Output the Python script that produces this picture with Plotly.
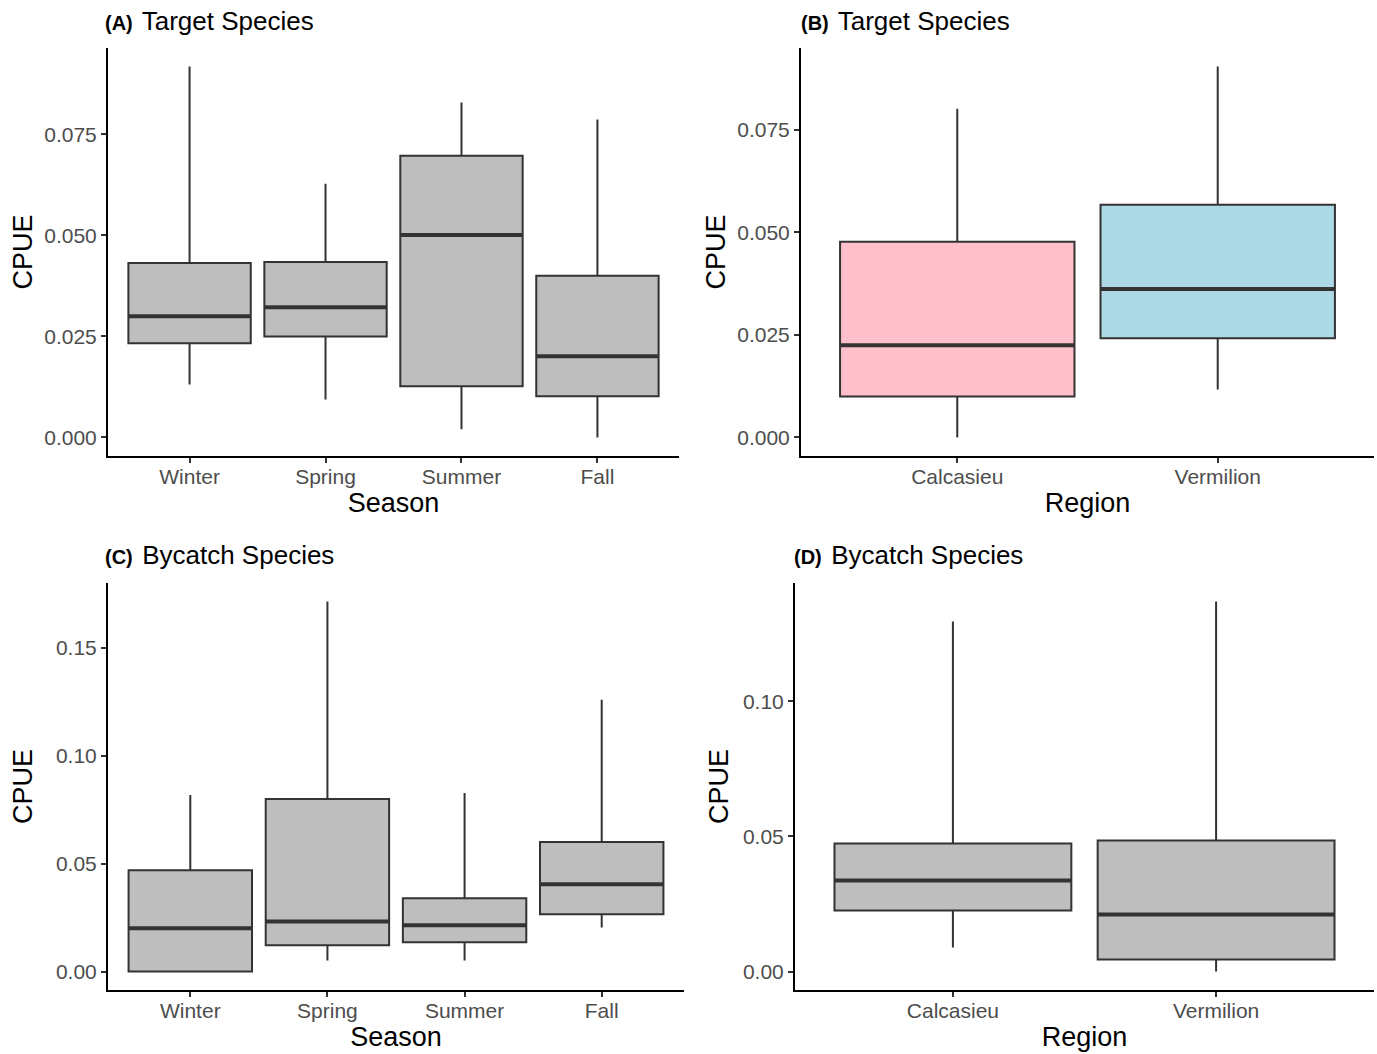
import plotly.graph_objects as go

W, H = 1377, 1054

seasons = ["Winter", "Spring", "Summer", "Fall"]
regions = ["Calcasieu", "Vermilion"]

# Panel A: Target species by season
a_low = [0.0131, 0.0094, 0.0020, 0.0000]
a_q1 = [0.0233, 0.0250, 0.0127, 0.0102]
a_med = [0.0300, 0.0322, 0.0501, 0.0201]
a_q3 = [0.0432, 0.0434, 0.0697, 0.0400]
a_high = [0.0918, 0.0628, 0.0829, 0.0787]

# Panel B: Target species by region
b_low = [0.0000, 0.0117]
b_q1 = [0.0100, 0.0242]
b_med = [0.0225, 0.0362]
b_q3 = [0.0477, 0.0567]
b_high = [0.0801, 0.0904]

# Panel C: Bycatch species by season
c_low = [0.0000, 0.0051, 0.0051, 0.0204]
c_q1 = [0.0000, 0.0121, 0.0135, 0.0265]
c_med = [0.0200, 0.0232, 0.0214, 0.0404]
c_q3 = [0.0469, 0.0799, 0.0339, 0.0599]
c_high = [0.0817, 0.1713, 0.0826, 0.1258]

# Panel D: Bycatch species by region
d_low = [0.0089, 0.0000]
d_q1 = [0.0226, 0.0044]
d_med = [0.0337, 0.0211]
d_q3 = [0.0474, 0.0485]
d_high = [0.1296, 0.1370]

GREY = "#BEBEBE"
region_fill_target = ["#FFC0CB", "#ADD8E6"]

panels = [
    dict(cats=seasons, low=a_low, q1=a_q1, med=a_med, q3=a_q3, high=a_high,
         fills=[GREY] * 4, tag="(A)", title="Target Species", xtitle="Season",
         ticks=[0, 0.025, 0.05, 0.075], fmt=".3f", xstand=0, ystand=4,
         px=(108, 679), py=(48, 456), tx=103, ty=21),
    dict(cats=regions, low=b_low, q1=b_q1, med=b_med, q3=b_q3, high=b_high,
         fills=region_fill_target, tag="(B)", title="Target Species", xtitle="Region",
         ticks=[0, 0.025, 0.05, 0.075], fmt=".3f", xstand=6, ystand=4,
         px=(801, 1374), py=(48, 456), tx=799, ty=21),
    dict(cats=seasons, low=c_low, q1=c_q1, med=c_med, q3=c_q3, high=c_high,
         fills=[GREY] * 4, tag="(C)", title="Bycatch Species", xtitle="Season",
         ticks=[0, 0.05, 0.10, 0.15], fmt=".2f", xstand=0, ystand=15,
         px=(108, 684), py=(583, 990), tx=103, ty=555),
    dict(cats=regions, low=d_low, q1=d_q1, med=d_med, q3=d_q3, high=d_high,
         fills=[GREY] * 2, tag="(D)", title="Bycatch Species", xtitle="Region",
         ticks=[0, 0.05, 0.10], fmt=".2f", xstand=6, ystand=6,
         px=(795, 1374), py=(583, 990), tx=792, ty=555),
]

fig = go.Figure()
layout = dict(
    width=W, height=H,
    margin=dict(l=0, r=0, t=0, b=0),
    paper_bgcolor="white", plot_bgcolor="white",
    showlegend=False, boxmode="overlay",
    font=dict(family="Liberation Sans, Arial, sans-serif", color="#000000"),
    annotations=[],
)

LINE = "#333333"
BOX_W = 0.9

for k, p in enumerate(panels):
    n = k + 1
    xa = "x" if n == 1 else f"x{n}"
    ya = "y" if n == 1 else f"y{n}"
    for i, cat in enumerate(p["cats"]):
        fig.add_trace(go.Box(
            x=[i], q1=[p["q1"][i]], median=[p["med"][i]], q3=[p["q3"][i]],
            lowerfence=[p["low"][i]], upperfence=[p["high"][i]],
            width=BOX_W, fillcolor=p["fills"][i],
            line=dict(color=LINE, width=2), whiskerwidth=0,
            boxpoints=False, name=cat, hoverinfo="skip",
            xaxis=xa, yaxis=ya,
        ))
        fig.add_trace(go.Scatter(
            x=[i - BOX_W / 2, i + BOX_W / 2], y=[p["med"][i], p["med"][i]],
            mode="lines", line=dict(color=LINE, width=4),
            hoverinfo="skip", xaxis=xa, yaxis=ya,
        ))
    lo = min(p["low"])
    hi = max(p["high"])
    span = hi - lo
    yr = [lo - 0.05 * span, hi + 0.05 * span]
    x0, x1 = p["px"]
    y0, y1 = p["py"]
    xdom = [x0 / W, x1 / W]
    ydom = [1 - y1 / H, 1 - y0 / H]
    axis_common = dict(
        showline=True, linecolor="black", linewidth=2,
        ticks="outside", ticklen=5, tickwidth=1.5, tickcolor=LINE,
        showgrid=False, zeroline=False,
        tickfont=dict(size=21, color="#4D4D4D"),
        title_font=dict(size=27, color="#000000"),
    )
    layout["xaxis" if n == 1 else f"xaxis{n}"] = dict(
        axis_common, domain=xdom, anchor=ya,
        range=[-0.6, len(p["cats"]) - 1 + 0.6],
        tickmode="array", tickvals=list(range(len(p["cats"]))), ticktext=p["cats"],
        ticklabelstandoff=-4,
        title=dict(text=p["xtitle"], standoff=p["xstand"]),
    )
    layout["yaxis" if n == 1 else f"yaxis{n}"] = dict(
        axis_common, domain=ydom, anchor=xa, range=yr,
        tickmode="array", tickvals=p["ticks"],
        ticktext=[format(v, p["fmt"]) for v in p["ticks"]],
        title=dict(text="CPUE", standoff=p["ystand"]),
    )
    layout["annotations"].append(dict(
        text=f"<b><span style='font-size:20px'>{p['tag']}</span></b>\u200a {p['title']}",
        x=p["tx"] / W, y=1 - p["ty"] / H, xref="paper", yref="paper",
        xanchor="left", yanchor="middle", showarrow=False,
        font=dict(size=26, color="#000000"),
    ))

fig.update_layout(**layout)
fig.write_html(
    "out.html",
    config={"displayModeBar": False},
    post_script="document.body.style.margin='0';document.body.style.overflow='hidden';",
)
